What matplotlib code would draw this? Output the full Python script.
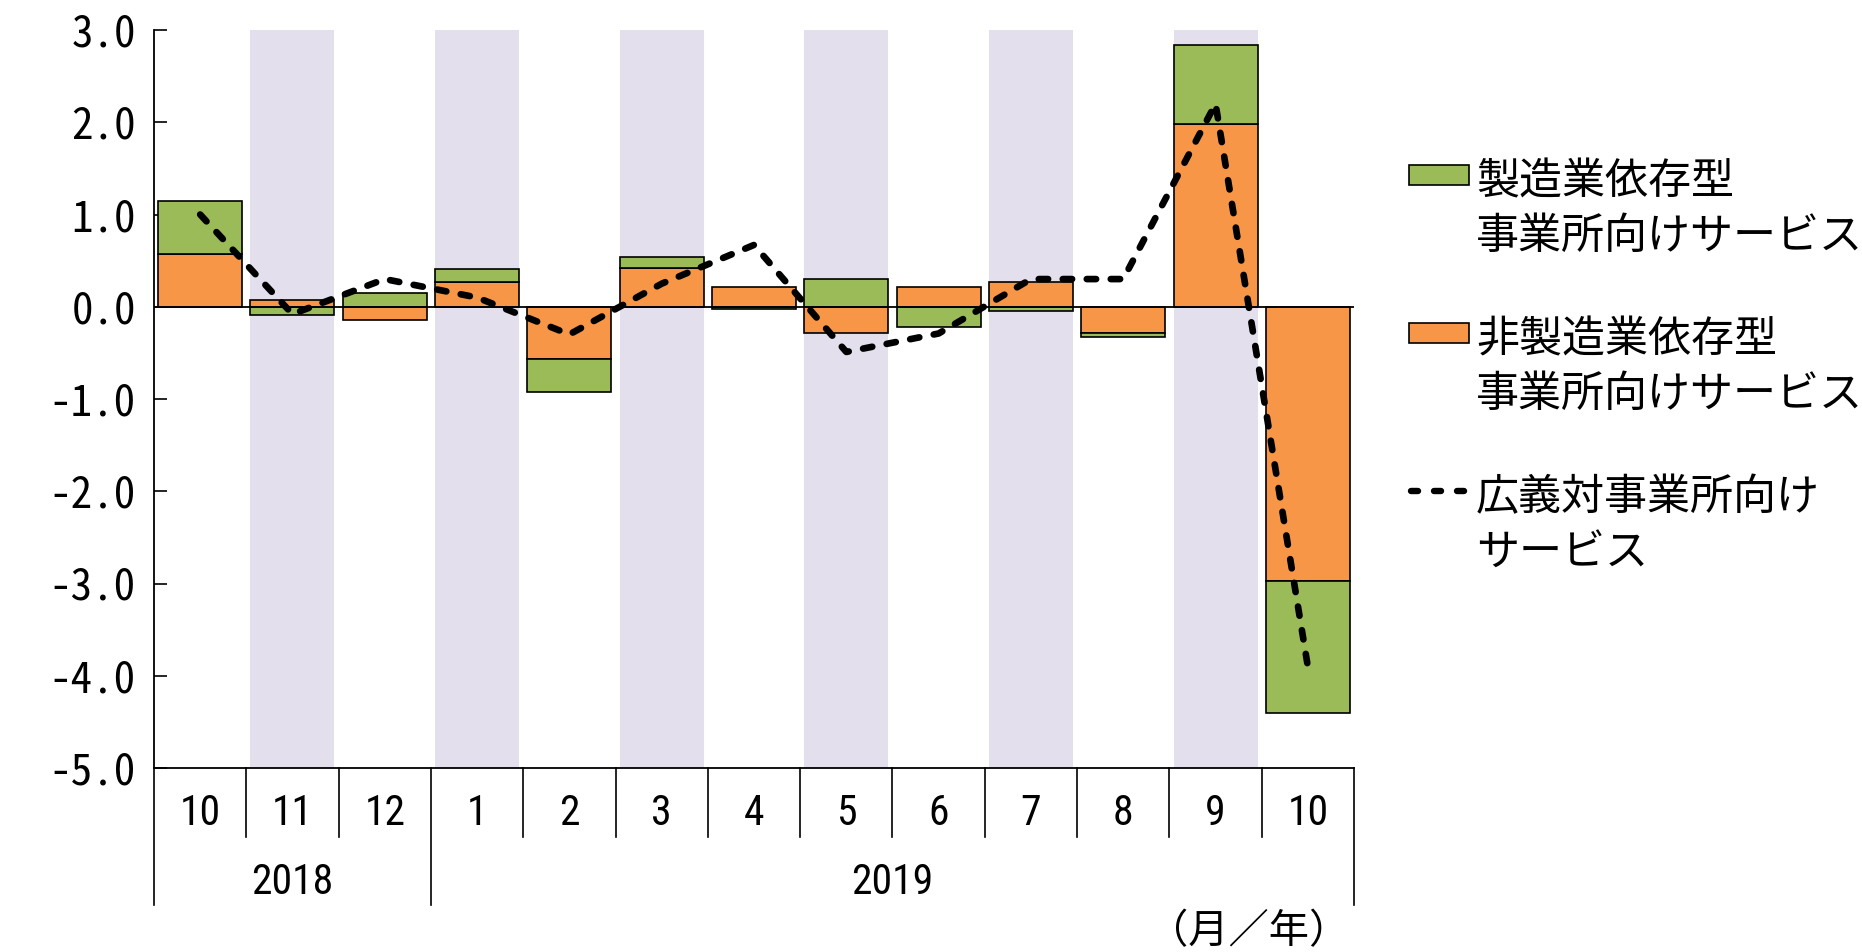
import numpy as np
import matplotlib.pyplot as plt
from matplotlib.patches import Rectangle
from matplotlib.lines import Line2D
import matplotlib.transforms as mtransforms

plt.rcParams['font.family'] = ['Noto Sans CJK JP', 'DejaVu Sans']

# data (contributions, %)
months = ["10", "11", "12", "1", "2", "3", "4", "5", "6", "7", "8", "9", "10"]
years = ["2018", "2019"]
year_span = [(0, 3), (3, 13)]
mfg = [0.58, -0.09, 0.15, 0.14, -0.35, 0.12, -0.02, 0.30, -0.22, -0.05, -0.05, 0.86, -1.43]
non_mfg = [0.57, 0.07, -0.14, 0.27, -0.57, 0.42, 0.21, -0.28, 0.21, 0.27, -0.28, 1.98, -2.97]
total = [1.0, -0.08, 0.30, 0.10, -0.30, 0.25, 0.67, -0.49, -0.29, 0.30, 0.30, 2.2, -3.9]
shaded = [1, 3, 5, 7, 9, 11]

labels = [["製造業依存型", "事業所向けサービス"],
          ["非製造業依存型", "事業所向けサービス"],
          ["広義対事業所向け", "サービス"]]

GREEN = "#9BBB59"
ORANGE = "#F79646"
BAND = "#E3DFEC"
NARROW = ['Liberation Sans Narrow', 'DejaVu Sans Condensed', 'Roboto Condensed', 'Liberation Sans']

W, H = 1862, 952
fig = plt.figure(figsize=(W / 100, H / 100), dpi=100)
ax = fig.add_axes([154 / W, 1 - 768 / H, 1200 / W, 738 / H])

x = np.arange(len(months))
ymin, ymax = -5.0, 3.0
bw = 0.91

# shaded bands
ax.bar(shaded, ymax - ymin, bottom=ymin, width=bw, color=BAND, zorder=0)

# stacked bars: positives up from 0, negatives down from 0
non_mfg = np.array(non_mfg)
mfg = np.array(mfg)
pos_base = np.zeros(len(x))
neg_base = np.zeros(len(x))
for vals, col in [(non_mfg, ORANGE), (mfg, GREEN)]:
    base = np.where(vals >= 0, pos_base, neg_base)
    ax.bar(x, vals, bottom=base, width=bw, color=col, edgecolor="black", linewidth=1.2, zorder=2)
    pos_base = pos_base + np.where(vals >= 0, vals, 0)
    neg_base = neg_base + np.where(vals < 0, vals, 0)

ax.axhline(0, color="black", linewidth=1.3, zorder=3)
ax.plot(x, total, color="black", linewidth=4.8, linestyle=(0, (1.4, 2.2)),
        dash_capstyle="round", zorder=4)

ax.set_xlim(-0.5, len(x) - 0.5)
ax.set_ylim(ymin, ymax)
ax.set_yticks(np.arange(-5, 4, 1))
ax.set_yticklabels([f"{v:.1f}" for v in np.arange(-5, 4, 1)],
                   fontsize=31, family=['Noto Sans Mono CJK JP', 'Noto Sans CJK JP'])
ax.tick_params(axis="y", direction="in", length=9, width=1.2, pad=13)
ax.set_xticks([])
for s in ["top", "right"]:
    ax.spines[s].set_visible(False)
ax.spines["left"].set_linewidth(1.3)
ax.spines["bottom"].set_linewidth(1.3)

# category axis (months / years)
trans = mtransforms.blended_transform_factory(ax.transData, ax.transAxes)
for i in range(len(x) + 1):
    is_year = i in (0, 3, len(x))
    ax.plot([i - 0.5, i - 0.5], [0, -0.186 if is_year else -0.093],
            transform=trans, color="black", linewidth=1.2, clip_on=False)
for i, m in enumerate(months):
    ax.text(i, -0.061, m, transform=trans, ha="center", va="center", fontsize=30, family=NARROW)
for yr, (a, b) in zip(years, year_span):
    ax.text((a + b - 1) / 2, -0.155, yr, transform=trans, ha="center", va="center",
            fontsize=30, family=NARROW)
ax.text(12.45, -0.222, "（月／年）", transform=trans, ha="right", va="center", fontsize=29)

# legend
def fx(px):
    return px / W

def fy(py):
    return 1 - py / H

entries = [(175, "patch", GREEN), (333, "patch", ORANGE), (491, "line", "black")]
for (yc, kind, col), lab in zip(entries, labels):
    if kind == "patch":
        fig.add_artist(Rectangle((fx(1409), fy(yc + 10)), fx(60), 20 / H,
                                 facecolor=col, edgecolor="black", linewidth=1.2))
    else:
        fig.add_artist(Line2D([fx(1411), fx(1467)], [fy(yc), fy(yc)], color="black",
                              linewidth=4.6, linestyle=(0, (1.1, 2.5)), dash_capstyle="round"))
    for k, line in enumerate(lab):
        fig.text(fx(1476), fy(yc + 7 + 55 * k), line, ha="left", va="center", fontsize=31)

fig.savefig("out.png", dpi=100)
